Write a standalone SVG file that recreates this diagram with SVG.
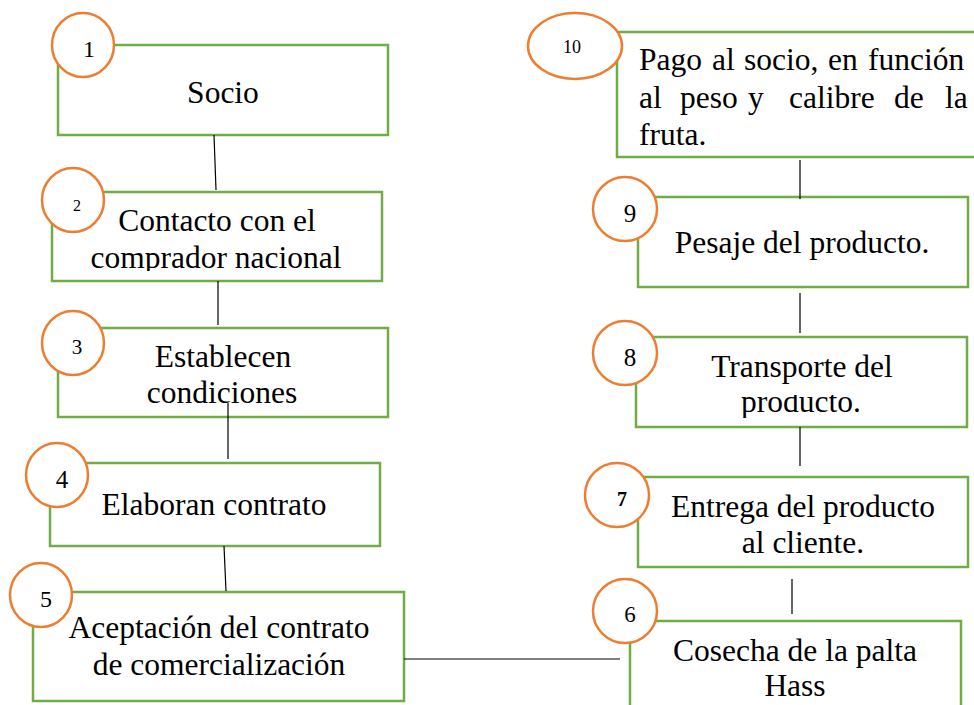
<svg xmlns="http://www.w3.org/2000/svg" width="974" height="705" viewBox="0 0 974 705">
<style>
.box{fill:#ffffff;stroke:#70AD47;stroke-width:2.5}
.num{fill:#ffffff;stroke:#ED7D31;stroke-width:2.5}
.t{font-family:"Liberation Serif","Times New Roman",serif;font-size:31.5px;fill:#000;text-anchor:middle}
.tl{font-family:"Liberation Serif","Times New Roman",serif;font-size:31.5px;fill:#000}
.n{font-family:"Liberation Serif","Times New Roman",serif;fill:#000;text-anchor:middle}
.c{stroke:#000;stroke-width:1.2;fill:none}
</style>
<defs>
<clipPath id="clip2"><rect x="52" y="190" width="330" height="81"/></clipPath>
<clipPath id="clip8"><rect x="636" y="395" width="331" height="23"/></clipPath>
<clipPath id="clip6"><rect x="630" y="621" width="331" height="76"/></clipPath>
</defs>
<rect width="974" height="705" fill="#ffffff"/>
<g id="node1">
<rect class="box" x="58" y="45" width="330" height="90"/>
<ellipse class="num" cx="83" cy="45" rx="31" ry="32"/>
<text class="n" x="89" y="57" font-size="24">1</text>
<text class="t" x="223" y="103">Socio</text>
</g>
<g id="node2">
<rect class="box" x="52" y="192" width="330" height="89"/>
<ellipse class="num" cx="73" cy="200" rx="31" ry="32"/>
<text class="n" x="77" y="211" font-size="16">2</text>
<text class="t" x="217" y="231">Contacto con el</text>
<text class="t" x="216" y="268" clip-path="url(#clip2)">comprador nacional</text>
</g>
<g id="node3">
<rect class="box" x="58" y="328" width="330" height="89"/>
<ellipse class="num" cx="73" cy="343" rx="31" ry="32"/>
<text class="n" x="77" y="354" font-size="21">3</text>
<text class="t" x="223" y="367">Establecen</text>
<text class="t" x="222" y="403">condiciones</text>
</g>
<g id="node4">
<rect class="box" x="50" y="463" width="330" height="83"/>
<ellipse class="num" cx="57" cy="475" rx="31" ry="32"/>
<text class="n" x="62" y="488" font-size="25">4</text>
<text class="t" x="214" y="515">Elaboran contrato</text>
</g>
<g id="node5">
<rect class="box" x="33" y="592" width="371" height="109"/>
<ellipse class="num" cx="41" cy="595" rx="31" ry="32"/>
<text class="n" x="46" y="607" font-size="24">5</text>
<text class="t" x="219" y="638">Aceptación del contrato</text>
<text class="t" x="219" y="675">de comercialización</text>
</g>
<g id="node6">
<rect class="box" x="630" y="621" width="331" height="110"/>
<ellipse class="num" cx="625" cy="611" rx="32" ry="32"/>
<text class="n" x="630" y="622" font-size="23">6</text>
<text class="t" x="795" y="661">Cosecha de la palta</text>
<text class="t" x="795" y="696" clip-path="url(#clip6)">Hass</text>
</g>
<g id="node7">
<rect class="box" x="638" y="477" width="330" height="90"/>
<ellipse class="num" cx="617" cy="495" rx="32" ry="32"/>
<text class="n" x="622" y="506" font-size="20" font-weight="bold">7</text>
<text class="t" x="803" y="517">Entrega del producto</text>
<text class="t" x="803" y="553">al cliente.</text>
</g>
<g id="node8">
<rect class="box" x="636" y="337" width="331" height="90"/>
<ellipse class="num" cx="625" cy="353" rx="32" ry="32"/>
<text class="n" x="630" y="366" font-size="25">8</text>
<text class="t" x="802" y="377">Transporte del</text>
<text class="t" x="801" y="412" clip-path="url(#clip8)">producto.</text>
</g>
<g id="node9">
<rect class="box" x="638" y="197" width="330" height="90"/>
<ellipse class="num" cx="625" cy="209" rx="32" ry="32"/>
<text class="n" x="630" y="222" font-size="25">9</text>
<text class="t" x="802" y="253">Pesaje del producto.</text>
</g>
<g id="node10">
<rect class="box" x="617" y="32" width="362" height="125"/>
<ellipse class="num" cx="575" cy="46" rx="47" ry="33"/>
<text class="n" x="572" y="53" font-size="18">10</text>
<text class="tl" y="70"><tspan x="639">Pago</tspan><tspan x="712">al</tspan><tspan x="744">socio,</tspan><tspan x="828">en</tspan><tspan x="868">función</tspan></text>
<text class="tl" y="108"><tspan x="639">al</tspan><tspan x="680">peso</tspan><tspan x="748">y</tspan><tspan x="789">calibre</tspan><tspan x="894">de</tspan><tspan x="945">la</tspan></text>
<text class="tl" x="639" y="145">fruta.</text>
</g>
<g id="connectors">
<line class="c" x1="214" y1="135" x2="216" y2="190"/>
<line class="c" x1="218" y1="281" x2="218" y2="325"/>
<line class="c" x1="228" y1="403" x2="228" y2="459"/>
<line class="c" x1="224" y1="546" x2="226" y2="591"/>
<line class="c" x1="404" y1="659" x2="620" y2="659"/>
<line class="c" x1="792" y1="579" x2="792" y2="614"/>
<line class="c" x1="800" y1="427" x2="800" y2="466"/>
<line class="c" x1="800" y1="293" x2="800" y2="333"/>
<line class="c" x1="800" y1="160" x2="800" y2="199"/>
</g>
</svg>
